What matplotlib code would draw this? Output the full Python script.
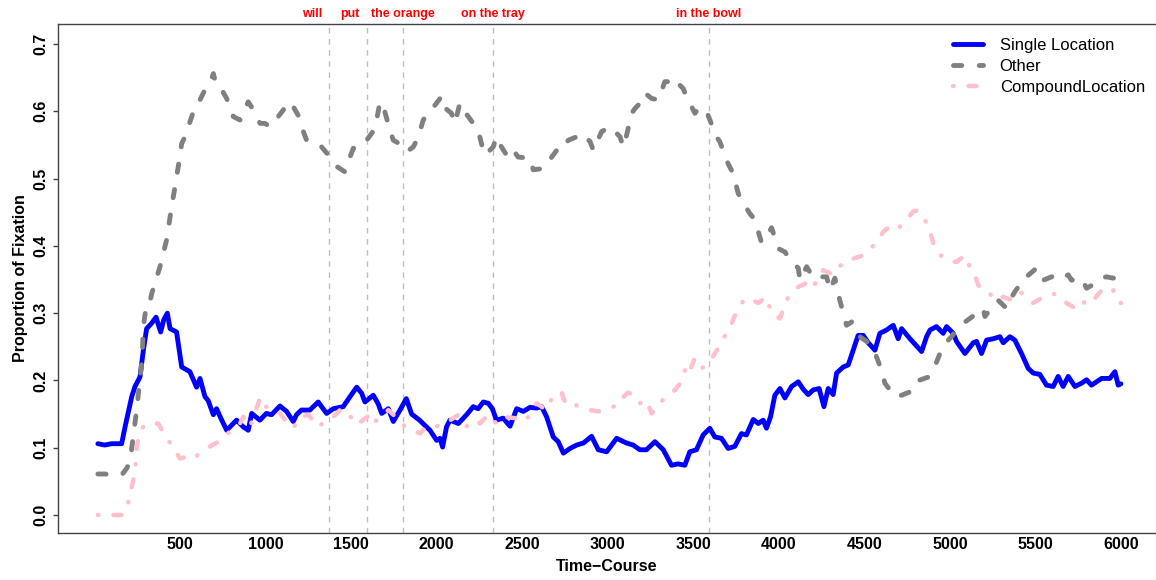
import matplotlib
matplotlib.use('Agg')
import matplotlib.pyplot as plt
import matplotlib.transforms as mtransforms
from matplotlib.lines import Line2D

plt.rcParams['font.family'] = ['Liberation Sans', 'DejaVu Sans']

# Single Location (blue)
single_t = [20, 60, 100, 159, 179, 218, 237, 266, 286, 305, 334, 360, 387, 405, 426, 442, 480,
            510, 558, 597, 617, 646, 665, 695, 714, 744, 773, 800, 831, 870, 899, 919, 967,
            1005, 1035, 1084, 1123, 1162, 1181, 1210, 1259, 1308, 1357, 1396, 1454, 1494, 1533,
            1562, 1581, 1630, 1659, 1679, 1718, 1747, 1786, 1823, 1854, 1900, 1961, 2000, 2020,
            2035, 2058, 2078, 2127, 2175, 2214, 2243, 2273, 2302, 2326, 2350, 2389, 2429, 2468,
            2507, 2546, 2585, 2614, 2643, 2682, 2711, 2741, 2780, 2819, 2858, 2906, 2945, 2994,
            3052, 3110, 3149, 3188, 3227, 3276, 3325, 3373, 3412, 3451, 3480, 3519, 3558, 3597,
            3626, 3665, 3704, 3743, 3782, 3811, 3851, 3880, 3909, 3928, 3952, 3977, 4007, 4036,
            4075, 4114, 4143, 4172, 4202, 4236, 4264, 4289, 4318, 4338, 4377, 4406, 4435, 4464,
            4494, 4523, 4562, 4591, 4630, 4669, 4698, 4718, 4767, 4835, 4864, 4884, 4922, 4961,
            4981, 5020, 5039, 5088, 5137, 5156, 5185, 5215, 5254, 5293, 5312, 5351, 5380, 5419,
            5458, 5487, 5526, 5565, 5604, 5633, 5662, 5692, 5731, 5770, 5799, 5828, 5857, 5887,
            5935, 5965, 5984, 6000]
single_v = [0.106, 0.104, 0.106, 0.106, 0.131, 0.176, 0.191, 0.205, 0.245, 0.277, 0.285, 0.294,
            0.272, 0.290, 0.300, 0.277, 0.272, 0.220, 0.213, 0.190, 0.203, 0.176, 0.170, 0.149,
            0.158, 0.141, 0.126, 0.133, 0.141, 0.131, 0.126, 0.151, 0.141, 0.151, 0.149, 0.162,
            0.154, 0.139, 0.149, 0.156, 0.156, 0.168, 0.151, 0.158, 0.161, 0.176, 0.190, 0.181,
            0.168, 0.178, 0.165, 0.151, 0.158, 0.139, 0.156, 0.173, 0.150, 0.141, 0.126, 0.111,
            0.114, 0.101, 0.131, 0.141, 0.136, 0.149, 0.161, 0.158, 0.168, 0.166, 0.158, 0.141,
            0.144, 0.132, 0.158, 0.154, 0.160, 0.159, 0.161, 0.146, 0.116, 0.109, 0.092, 0.099,
            0.104, 0.107, 0.117, 0.097, 0.094, 0.114, 0.107, 0.104, 0.097, 0.097, 0.109, 0.097,
            0.074, 0.076, 0.074, 0.094, 0.097, 0.119, 0.129, 0.116, 0.114, 0.099, 0.102, 0.121,
            0.119, 0.142, 0.136, 0.141, 0.129, 0.146, 0.178, 0.188, 0.174, 0.191, 0.198, 0.187,
            0.179, 0.186, 0.188, 0.161, 0.188, 0.179, 0.211, 0.220, 0.223, 0.245, 0.267, 0.267,
            0.256, 0.245, 0.270, 0.275, 0.282, 0.262, 0.277, 0.262, 0.243, 0.265, 0.275, 0.280,
            0.270, 0.280, 0.270, 0.258, 0.240, 0.256, 0.258, 0.240, 0.260, 0.262, 0.265, 0.256,
            0.265, 0.260, 0.240, 0.218, 0.211, 0.209, 0.193, 0.191, 0.206, 0.191, 0.206, 0.191,
            0.196, 0.201, 0.193, 0.198, 0.203, 0.203, 0.213, 0.193, 0.195]

# Other (grey)
other_t = [20, 60, 100, 130, 167, 190, 208, 249, 265, 278, 286, 305, 325, 336, 383, 422, 451, 481,
           510, 529, 549, 588, 617, 646, 675, 695, 714, 744, 773, 812, 851, 899, 929, 968, 997,
           1026, 1065, 1104, 1133, 1162, 1191, 1211, 1240, 1279, 1328, 1377, 1416, 1464, 1494,
           1513, 1552, 1591, 1640, 1669, 1689, 1727, 1747, 1796, 1825, 1864, 1893, 1922, 1941,
           1990, 2029, 2039, 2087, 2107, 2136, 2165, 2214, 2243, 2262, 2282, 2331, 2350, 2379,
           2409, 2440, 2477, 2546, 2565, 2624, 2653, 2702, 2721, 2770, 2818, 2848, 2897, 2916,
           2965, 2994, 3023, 3043, 3072, 3091, 3111, 3140, 3159, 3208, 3218, 3257, 3296, 3334,
           3354, 3378, 3441, 3460, 3510, 3529, 3568, 3587, 3636, 3655, 3704, 3733, 3763, 3782,
           3831, 3860, 3899, 3928, 3958, 3997, 4036, 4075, 4114, 4124, 4163, 4182, 4221, 4250,
           4280, 4299, 4328, 4357, 4396, 4426, 4474, 4513, 4552, 4601, 4620, 4679, 4718, 4766,
           4796, 4874, 4903, 4942, 4961, 5010, 5039, 5078, 5117, 5195, 5205, 5254, 5283, 5332,
           5351, 5380, 5400, 5439, 5448, 5507, 5546, 5575, 5624, 5653, 5692, 5711, 5770, 5799,
           5848, 5877, 5916, 5955, 5984, 6000]
other_v = [0.061, 0.061, 0.060, 0.058, 0.062, 0.070, 0.079, 0.161, 0.200, 0.230, 0.280, 0.315,
           0.318, 0.330, 0.369, 0.409, 0.458, 0.503, 0.552, 0.562, 0.577, 0.607, 0.617, 0.632,
           0.641, 0.656, 0.637, 0.632, 0.619, 0.592, 0.587, 0.614, 0.602, 0.582, 0.582, 0.577,
           0.589, 0.602, 0.614, 0.607, 0.594, 0.577, 0.557, 0.550, 0.547, 0.532, 0.518, 0.510,
           0.532, 0.545, 0.547, 0.557, 0.574, 0.614, 0.607, 0.572, 0.557, 0.550, 0.540, 0.547,
           0.562, 0.587, 0.594, 0.609, 0.622, 0.607, 0.597, 0.582, 0.612, 0.599, 0.582, 0.572,
           0.552, 0.535, 0.547, 0.562, 0.547, 0.535, 0.545, 0.532, 0.530, 0.513, 0.515, 0.525,
           0.542, 0.540, 0.557, 0.562, 0.567, 0.555, 0.542, 0.570, 0.574, 0.567, 0.570, 0.562,
           0.547, 0.565, 0.597, 0.604, 0.617, 0.627, 0.619, 0.617, 0.644, 0.644, 0.650, 0.634,
           0.622, 0.597, 0.604, 0.592, 0.594, 0.562, 0.555, 0.522, 0.508, 0.478, 0.468, 0.448,
           0.439, 0.405, 0.413, 0.427, 0.396, 0.391, 0.376, 0.367, 0.349, 0.369, 0.361, 0.364,
           0.354, 0.354, 0.334, 0.352, 0.319, 0.282, 0.287, 0.265, 0.258, 0.248, 0.215, 0.196,
           0.176, 0.178, 0.183, 0.198, 0.205, 0.215, 0.240, 0.252, 0.265, 0.275, 0.285, 0.292,
           0.307, 0.295, 0.312, 0.319, 0.307, 0.319, 0.332, 0.339, 0.347, 0.354, 0.367, 0.349,
           0.352, 0.357, 0.352, 0.357, 0.349, 0.352, 0.337, 0.344, 0.352, 0.354, 0.352, 0.354,
           0.355]

# CompoundLocation (pink)
compound_t = [20, 100, 158, 188, 208, 237, 247, 266, 305, 373, 412, 442, 500, 578, 588, 656, 724,
              753, 792, 851, 870, 909, 967, 977, 1026, 1084, 1123, 1162, 1201, 1250, 1308, 1347,
              1377, 1435, 1474, 1503, 1533, 1611, 1630, 1689, 1718, 1747, 1776, 1815, 1854, 1903,
              1942, 1981, 2039, 2097, 2127, 2175, 2234, 2253, 2302, 2350, 2389, 2458, 2516, 2536,
              2585, 2614, 2633, 2682, 2731, 2741, 2770, 2819, 2897, 2945, 3013, 3062, 3081, 3120,
              3169, 3188, 3227, 3256, 3276, 3305, 3354, 3383, 3432, 3461, 3480, 3510, 3549, 3588,
              3646, 3694, 3724, 3753, 3802, 3841, 3880, 3928, 3958, 4007, 4046, 4075, 4114, 4182,
              4202, 4260, 4318, 4377, 4435, 4494, 4533, 4572, 4611, 4660, 4699, 4737, 4786, 4815,
              4845, 4874, 4903, 4922, 4981, 5039, 5088, 5117, 5137, 5166, 5195, 5234, 5263, 5312,
              5361, 5409, 5458, 5487, 5546, 5604, 5653, 5682, 5721, 5770, 5799, 5848, 5887, 5916,
              5955, 5974, 6000]
compound_v = [0.000, 0.000, 0.000, 0.007, 0.032, 0.062, 0.101, 0.126, 0.136, 0.136, 0.119, 0.107,
              0.084, 0.089, 0.086, 0.099, 0.109, 0.116, 0.124, 0.136, 0.146, 0.131, 0.173, 0.161,
              0.161, 0.151, 0.139, 0.129, 0.146, 0.149, 0.131, 0.139, 0.141, 0.156, 0.156, 0.144,
              0.134, 0.149, 0.137, 0.149, 0.156, 0.149, 0.144, 0.131, 0.128, 0.121, 0.132, 0.131,
              0.134, 0.144, 0.149, 0.132, 0.141, 0.136, 0.149, 0.136, 0.146, 0.144, 0.139, 0.146,
              0.166, 0.161, 0.156, 0.176, 0.183, 0.173, 0.161, 0.163, 0.156, 0.154, 0.160, 0.163,
              0.173, 0.182, 0.176, 0.166, 0.171, 0.151, 0.156, 0.168, 0.176, 0.183, 0.198, 0.223,
              0.215, 0.233, 0.218, 0.225, 0.248, 0.271, 0.285, 0.302, 0.322, 0.320, 0.315, 0.324,
              0.300, 0.292, 0.320, 0.329, 0.339, 0.347, 0.339, 0.364, 0.357, 0.376, 0.381, 0.386,
              0.396, 0.404, 0.421, 0.431, 0.426, 0.436, 0.451, 0.453, 0.441, 0.431, 0.404, 0.391,
              0.379, 0.376, 0.386, 0.369, 0.364, 0.342, 0.332, 0.329, 0.319, 0.324, 0.320, 0.332,
              0.322, 0.315, 0.324, 0.329, 0.324, 0.315, 0.309, 0.307, 0.324, 0.322, 0.334, 0.329,
              0.334, 0.319, 0.315]

# word onsets
word_lines = [1370, 1595, 1805, 2330, 3590]
word_labels = ['will', 'put', 'the orange', 'on the tray', 'in the bowl']
word_label_x = [1270, 1495, 1805, 2330, 3590]

yticks = [0.0, 0.1, 0.2, 0.3, 0.4, 0.5, 0.6, 0.7]
xticks = [500, 1000, 1500, 2000, 2500, 3000, 3500, 4000, 4500, 5000, 5500, 6000]

fig = plt.figure(figsize=(11.56, 5.8), dpi=100)
ax = fig.add_axes([58 / 1156, 47 / 580, 1 - 58 / 1156, 509 / 580])

lw = 3.5
grey_dash = (1.7, 3.6)
pink_dash = (0.1, 3.4, 1.8, 3.4)

ax.plot(single_t, single_v, color='#0000FF', lw=lw, solid_capstyle='round',
        solid_joinstyle='round', label='Single Location')
ax.plot(other_t, other_v, color='#808080', lw=lw, dashes=grey_dash,
        dash_capstyle='round', dash_joinstyle='round', label='Other')
ax.plot(compound_t, compound_v, color='#FFC0CB', lw=3.2, dashes=pink_dash,
        dash_capstyle='round', dash_joinstyle='round', label='CompoundLocation')

for t in word_lines:
    ax.axvline(t, color='#BEBEBE', lw=1, ls=(0, (4, 4)), zorder=0)

trans = mtransforms.blended_transform_factory(ax.transData, ax.transAxes)
for x, lab in zip(word_label_x, word_labels):
    ax.text(x, 1.0196, lab, transform=trans, color='#FF0000', fontsize=9,
            fontweight='bold', ha='center', va='center')

ax.set_xlim(-213, 6205)
ax.set_ylim(-0.0267, 0.7297)

ax.set_xticks(xticks)
ax.set_xticklabels([str(v) for v in xticks], fontsize=11.5, fontweight='bold')
ax.tick_params(axis='x', length=0, pad=3)
ax.set_yticks(yticks)
ax.set_yticklabels(['%.1f' % v for v in yticks], fontsize=11.5, fontweight='bold',
                   rotation=90, va='center')
ax.tick_params(axis='y', length=3.6, width=1, color='#444444', pad=3.4)

ax.spines['right'].set_visible(False)
for s in ['left', 'top', 'bottom']:
    ax.spines[s].set_color('#444444')
    ax.spines[s].set_linewidth(1)

ax.set_xlabel('Time\u2212Course', fontsize=11.5, fontweight='bold', labelpad=5)
ax.set_ylabel('Proportion of Fixation', fontsize=11.5, fontweight='bold', labelpad=4)

handles = [
    Line2D([], [], color='#0000FF', lw=lw, solid_capstyle='round'),
    Line2D([], [], color='#808080', lw=lw, dashes=grey_dash, dash_capstyle='round'),
    Line2D([], [], color='#FFC0CB', lw=3.2, dashes=pink_dash, dash_capstyle='round'),
]
ax.legend(handles, ['Single Location', 'Other', 'CompoundLocation'],
          loc='upper left', bbox_to_anchor=(953 / 1156, (580 - 38) / 580),
          bbox_transform=fig.transFigure, frameon=False, fontsize=12,
          handlelength=1.8, handletextpad=1.0, labelspacing=0.37,
          borderpad=0, borderaxespad=0)

plt.savefig('out.png', dpi=100)
